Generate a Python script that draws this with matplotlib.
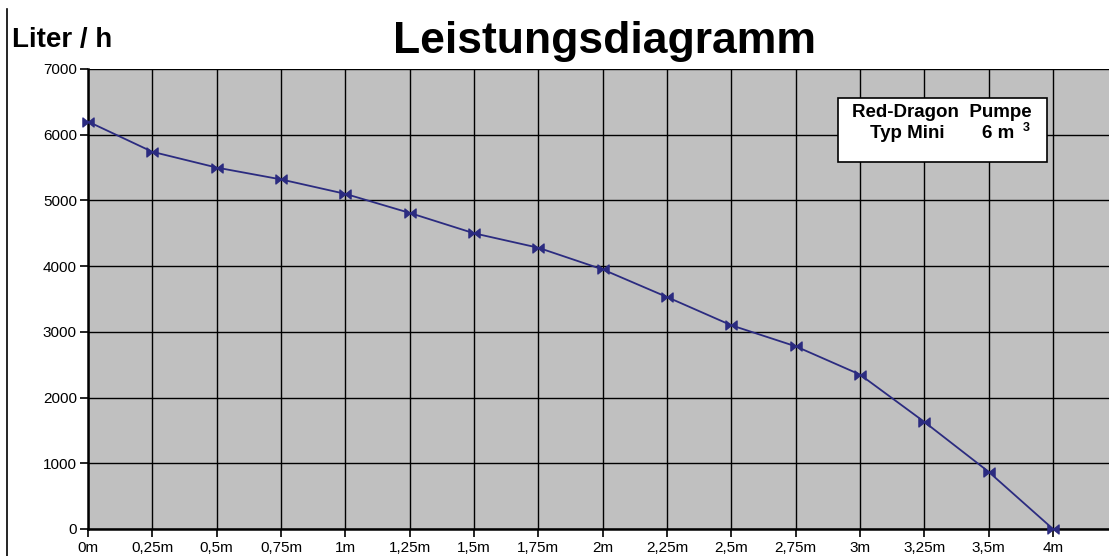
import matplotlib
matplotlib.use("Agg")
import matplotlib.pyplot as plt
from matplotlib.path import Path
from matplotlib.patches import Rectangle
from matplotlib.lines import Line2D

plt.rcParams['font.family'] = ['Liberation Sans', 'DejaVu Sans']

categories = ["0m", "0,25m", "0,5m", "0,75m", "1m", "1,25m", "1,5m", "1,75m",
              "2m", "2,25m", "2,5m", "2,75m", "3m", "3,25m", "3,5m", "4m"]
flow = [6200, 5740, 5500, 5320, 5100, 4810, 4500, 4280,
        3950, 3530, 3100, 2780, 2350, 1630, 870, 0]
y_ticks = [0, 1000, 2000, 3000, 4000, 5000, 6000, 7000]

W, H = 1109, 556
fig = plt.figure(figsize=(W / 100, H / 100), dpi=100)
fig.patch.set_facecolor('white')

def fx(px):
    return px / W

def fy(py):
    return 1 - py / H

ax_left, ax_top, ax_bottom = 88, 69, 529
ax = fig.add_axes([fx(ax_left), fy(ax_bottom), fx(W - ax_left), fy(ax_top) - fy(ax_bottom)])
ax.set_facecolor('#c0c0c0')

xs = list(range(len(categories)))
spacing = (1053 - ax_left) / 15
ax.set_xlim(0, (W - ax_left) / spacing)
ax.set_ylim(0, 7000)

bowtie = Path([(-1, -0.8), (-1, 0.8), (0, 0), (1, 0.8), (1, -0.8), (0, 0), (-1, -0.8)],
              [Path.MOVETO, Path.LINETO, Path.LINETO, Path.LINETO, Path.LINETO, Path.LINETO, Path.CLOSEPOLY])

ax.plot(xs, flow, color='#2b2b80', lw=1.3, marker=bowtie, markersize=8,
        markerfacecolor='#2b2b80', markeredgecolor='#2b2b80', clip_on=False, zorder=5)

ax.set_xticks(xs)
ax.set_xticklabels(categories)
ax.set_yticks(y_ticks)
ax.set_yticklabels([str(v) for v in y_ticks])
ax.tick_params(axis='both', direction='out', length=6, width=1.2, color='black',
               labelsize=11, labelcolor='black')
ax.tick_params(axis='y', pad=2)
ax.tick_params(axis='x', pad=3)

ax.grid(True, color='black', lw=1.0)
ax.set_axisbelow(True)
for s in ['top', 'right']:
    ax.spines[s].set_visible(False)
for s in ['left', 'bottom']:
    ax.spines[s].set_linewidth(1.8)
    ax.spines[s].set_color('black')

# Title and axis unit
fig.text(fx(604), fy(42), "Leistungsdiagramm", fontsize=32, fontweight='bold',
         ha='center', va='center', color='black')
fig.text(fx(12), fy(47), "Liter / h", fontsize=20, fontweight='bold',
         ha='left', va='baseline', color='black')

# Left frame line
fig.add_artist(Line2D([fx(7), fx(7)], [fy(9), 0], color='black', lw=1.2,
                      transform=fig.transFigure))

# Info box
box = Rectangle((fx(838), fy(162)), fx(1047 - 838), fy(98) - fy(162),
                transform=fig.transFigure, facecolor='white', edgecolor='black',
                lw=1.2, zorder=10)
fig.add_artist(box)
fig.text(fx(852), fy(117), "Red-Dragon  Pumpe", fontsize=13.5, fontweight='bold',
         ha='left', va='baseline', zorder=11)
fig.text(fx(870), fy(138), "Typ Mini", fontsize=13.5, fontweight='bold',
         ha='left', va='baseline', zorder=11)
fig.text(fx(982), fy(138), "6 m", fontsize=13.5, fontweight='bold',
         ha='left', va='baseline', zorder=11)
fig.text(fx(1023), fy(131), "3", fontsize=9, fontweight='bold',
         ha='left', va='baseline', zorder=11)

fig.savefig("out.png", dpi=100, facecolor='white')
